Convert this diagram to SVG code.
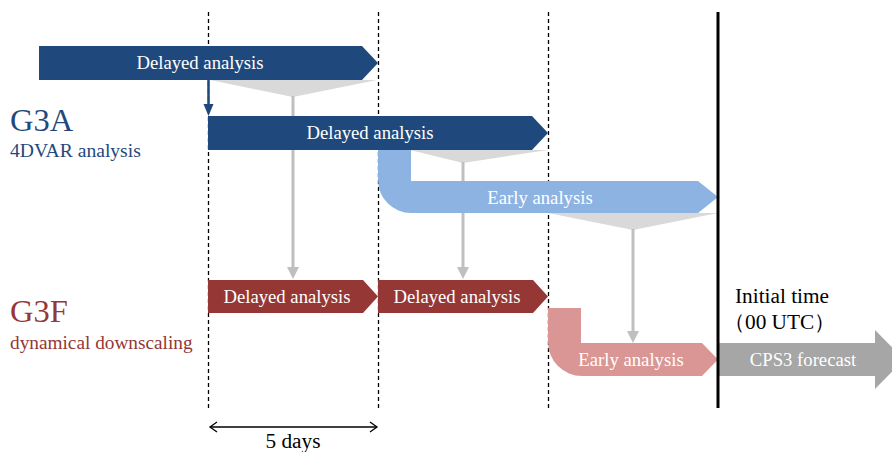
<svg xmlns="http://www.w3.org/2000/svg" width="892" height="452" viewBox="0 0 892 452">
<style>
text{font-family:"Liberation Serif","Times New Roman",serif}
.lbl{font-size:18.7px;fill:#ffffff;text-anchor:middle}
.dash{stroke:#000;stroke-width:1.3;stroke-dasharray:4 3;fill:none}
.gl{stroke:#BFBFBF;stroke-width:3;fill:none}
.gh{fill:#BFBFBF}
.fun{fill:#D9D9D9}
.blk{font-size:21.3px;fill:#000}
</style>
<rect width="892" height="452" fill="#ffffff"/>
<g id="gridlines">
<line class="dash" x1="208.5" y1="12" x2="208.5" y2="410"/>
<line class="dash" x1="378.5" y1="12" x2="378.5" y2="410"/>
<line class="dash" x1="548.5" y1="12" x2="548.5" y2="410"/>
</g>
<g id="connectors">
<polygon class="fun" points="210,80 377,80 293,97"/>
<line class="gl" x1="293" y1="96" x2="293" y2="270"/>
<polygon class="gh" points="287,267 299,267 293,279"/>
<polygon class="fun" points="410,150 548,150 463,163"/>
<line class="gl" x1="463" y1="162" x2="463" y2="270"/>
<polygon class="gh" points="457,267 469,267 463,279"/>
<polygon class="fun" points="548,213 718,213 633,230"/>
<line class="gl" x1="633" y1="229" x2="633" y2="334"/>
<polygon class="gh" points="627,331 639,331 633,343"/>
<line x1="208.5" y1="80" x2="208.5" y2="106" stroke="#1F497D" stroke-width="2.5"/>
<polygon points="203.5,104 213.5,104 208.5,116" fill="#1F497D"/>
</g>
<g id="g3a-delayed-1">
<path d="M39,46 L362,46 L378,63 L362,80 L39,80 Z" fill="#1F497D"/>
<text class="lbl" x="200" y="68.5">Delayed analysis</text>
</g>
<g id="g3a-delayed-2">
<path d="M208,116 L532,116 L548,133 L532,150 L208,150 Z" fill="#1F497D"/>
<text class="lbl" x="370" y="138.5">Delayed analysis</text>
</g>
<g id="g3a-early">
<path d="M378,150 L411,150 L411,181 L698,181 L718,197 L698,213 L411,213 A33 33 0 0 1 378,180 Z" fill="#8DB3E2"/>
<text class="lbl" x="540" y="203.5">Early analysis</text>
</g>
<g id="g3f-delayed-1">
<path d="M208,280 L363,280 L378,296.5 L363,313 L208,313 Z" fill="#953735"/>
<text class="lbl" x="287" y="303">Delayed analysis</text>
</g>
<g id="g3f-delayed-2">
<path d="M378,280 L533,280 L548,296.5 L533,313 L378,313 Z" fill="#953735"/>
<text class="lbl" x="457" y="303">Delayed analysis</text>
</g>
<g id="g3f-early">
<path d="M548,308 L581,308 L581,343 L702,343 L718,359.5 L702,376 L582,376 A34 34 0 0 1 548,342 Z" fill="#D99694"/>
<text class="lbl" x="631" y="365.5">Early analysis</text>
</g>
<g id="cps3-forecast">
<path d="M718,343 L875,343 L875,330 L904,359.5 L875,389 L875,376 L718,376 Z" fill="#A6A6A6"/>
<text class="lbl" x="803" y="366">CPS3 forecast</text>
</g>
<g id="initial-time">
<line x1="718" y1="12" x2="718" y2="408" stroke="#000" stroke-width="3"/>
<text class="blk" x="735" y="303">Initial time</text>
<text class="blk" x="724" y="329" font-family="'Liberation Serif','Noto Sans CJK JP',serif">（00 UTC）</text>
</g>
<g id="labels">
<text x="10" y="131" font-size="32.5" fill="#1F497D">G3A</text>
<text x="10" y="157" font-size="19.6" fill="#1F497D">4DVAR analysis</text>
<text x="10" y="322" font-size="32.5" fill="#953735">G3F</text>
<text x="10" y="349" font-size="19.3" fill="#953735">dynamical downscaling</text>
</g>
<g id="span-5-days">
<line x1="210" y1="427" x2="377" y2="427" stroke="#000" stroke-width="1.3"/>
<polyline points="217,422 210,427 217,432" fill="none" stroke="#000" stroke-width="1.3"/>
<polyline points="370,422 377,427 370,432" fill="none" stroke="#000" stroke-width="1.3"/>
<text class="blk" x="293" y="448" text-anchor="middle">5 days</text>
</g>
</svg>
